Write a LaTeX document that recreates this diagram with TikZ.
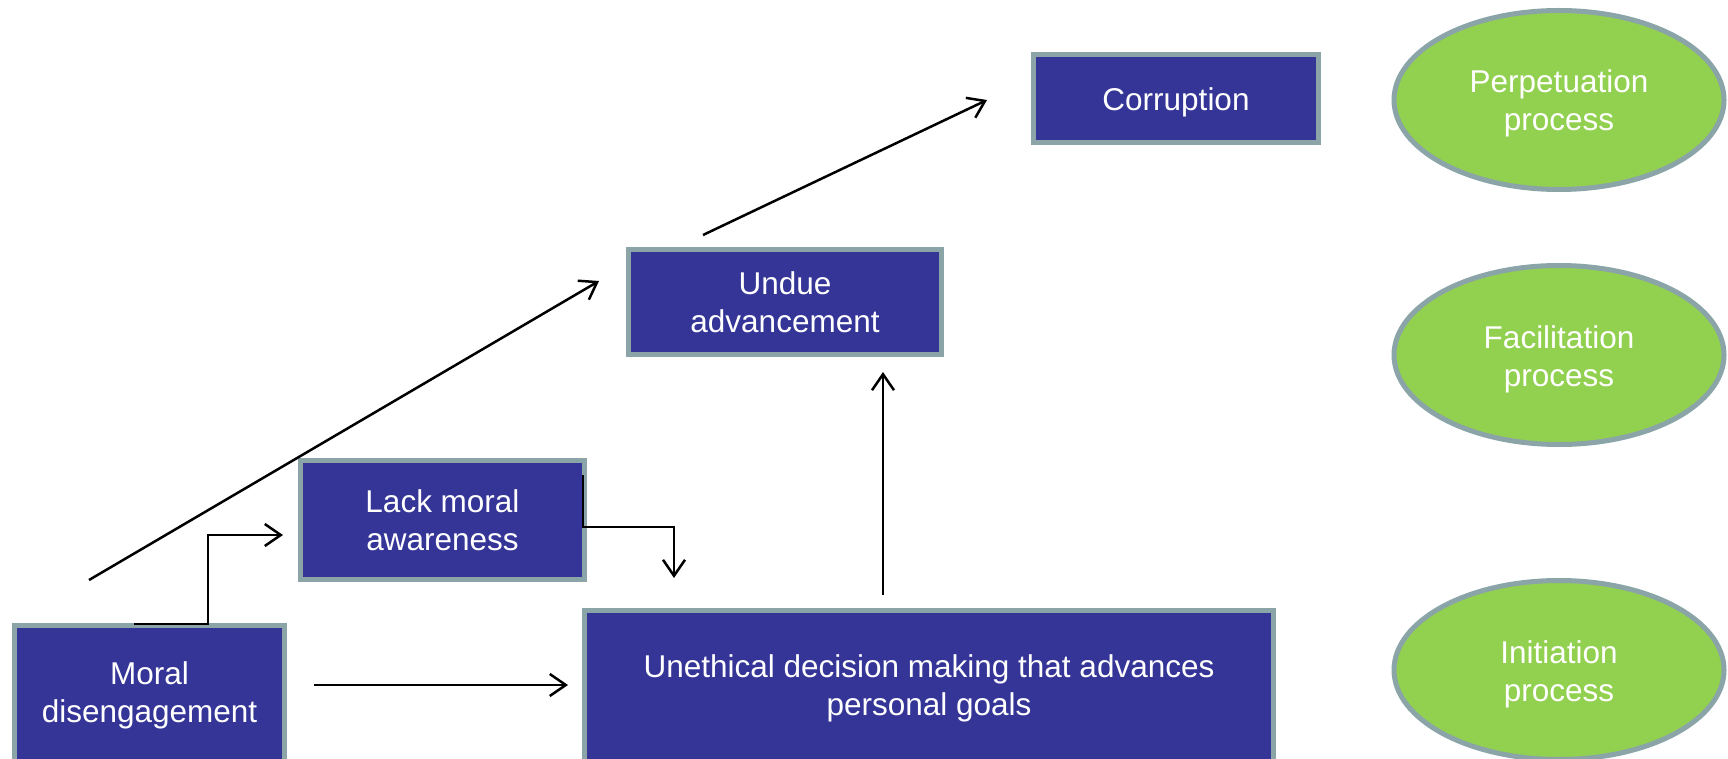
\documentclass[tikz,border=0pt]{standalone}
\usepackage{fontspec}
\setmainfont{Liberation Sans}
\usetikzlibrary{arrows.meta,shapes.geometric,calc}
\definecolor{boxfill}{RGB}{53,53,152}
\definecolor{edgegray}{RGB}{138,164,168}
\definecolor{ovalfill}{RGB}{146,208,80}
\begin{document}
\begin{tikzpicture}[x=1pt,y=-1pt,
  stagebox/.style={rectangle, draw=edgegray, line width=5pt, fill=boxfill, text=white,
    inner sep=0pt, align=center, font=\fontsize{31.5}{38}\selectfont},
  phase/.style={ellipse, draw=edgegray, line width=5pt, fill=ovalfill, inner sep=0pt},
  wtext/.style={text=white, inner sep=0pt, align=center, font=\fontsize{31.5}{38}\selectfont},
  link/.style={line width=2.5pt, -{Straight Barb[length=16pt,width=22pt]}}]
\useasboundingbox (0,0) rectangle (1728,759);
\clip (0,0) rectangle (1728,759);
% boxes
\node[stagebox, minimum width=285pt, minimum height=88pt] (corr) at (1176,98.5) {};
\node[wtext] (corrtext) at ($(corr.center)+(0,3.5)$) {Corruption};
\node[stagebox, minimum width=313pt, minimum height=104pt] (undue) at (785,302) {Undue\\advancement};
\node[stagebox, minimum width=284pt, minimum height=119pt] (lack) at (442.5,520.4) {Lack moral\\awareness};
\node[stagebox, minimum width=270pt, minimum height=139pt] (moral) at (149.5,695) {Moral\\disengagement};
\node[stagebox, minimum width=689pt, minimum height=156pt] (uneth) at (929,688.5) {Unethical decision making that advances\\personal goals};
% phases
\node[phase, minimum width=330pt, minimum height=179pt] (perp) at (1559,100) {};
\node[phase, minimum width=330pt, minimum height=179pt] (facil) at (1559,355) {};
\node[phase, minimum width=330pt, minimum height=179pt] (init) at (1559,670) {};
\node[wtext] (perptext) at ($(perp.center)+(0,3.7)$) {Perpetuation\\process};
\node[wtext] (faciltext) at ($(facil.center)+(0,4.3)$) {Facilitation\\process};
\node[wtext] (inittext) at ($(init.center)+(0,4)$) {Initiation\\process};
% connector end points
\coordinate (d1s) at (89,580);
\coordinate (d1e) at (599,281);
\coordinate (d2s) at (703,235);
\coordinate (d2e) at (987,100);
\coordinate (m1) at (134,624);
\coordinate (m2) at (208,624);
\coordinate (m3) at (208,535);
\coordinate (m4) at (283,535);
\coordinate (l1) at (583,475);
\coordinate (l2) at (583,527);
\coordinate (l3) at (674,527);
\coordinate (l4) at (674,578);
\coordinate (u1) at (883,595);
\coordinate (u2) at (883,372);
\coordinate (h1) at (314,685);
\coordinate (h2) at (568,685);
% connectors
\draw[link] (d1s) -- (d1e);
\draw[link] (d2s) -- (d2e);
\draw[link] (m1) -- (m2) -- (m3) -- (m4);
\draw[link] (l1) -- (l2) -- (l3) -- (l4);
\draw[link] (u1) -- (u2);
\draw[link] (h1) -- (h2);
\end{tikzpicture}
\end{document}
